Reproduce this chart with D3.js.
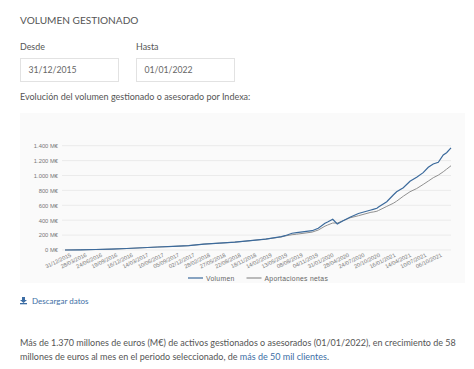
<!DOCTYPE html>
<html>
<head>
<meta charset="utf-8">
<script src="https://cdn.jsdelivr.net/npm/d3@7"></script>
<style>
  html, body { margin: 0; padding: 0; background: #fff; }
  body { width: 474px; height: 369px; overflow: hidden; position: relative; font-family: Lato, sans-serif; color: #555; }
  .abs { position: absolute; white-space: nowrap; }
  .box { position: absolute; top: 58px; height: 22px; width: 97px; border: 1px solid #e2e2e2; font-size: 8.7px; line-height: 22px; color: #666; text-indent: 7.5px; }
  a { color: #3d6ea5; text-decoration: none; }
  svg { position: absolute; left: 0; top: 0; }
</style>
</head>
<body>
<div class="abs" style="left:20px;top:14px;font-size:10.1px">VOLUMEN GESTIONADO</div>
<div class="abs" style="left:20px;top:41px;font-size:8.9px">Desde</div>
<div class="abs" style="left:136px;top:41px;font-size:8.9px">Hasta</div>
<div class="box" style="left:20px">31/12/2015</div>
<div class="box" style="left:136px">01/01/2022</div>
<div class="abs" style="left:20px;top:91px;font-size:9px">Evolución del volumen gestionado o asesorado por Indexa:</div>
<svg id="chart" width="474" height="369"></svg>
<div class="abs" style="left:32px;top:296px;font-size:8px"><a href="#">Descargar datos</a></div>
<div class="abs" style="left:20px;top:336px;font-size:9px;line-height:14px">Más de 1.370 millones de euros (M€) de activos gestionados o asesorados (01/01/2022), en crecimiento de 58<br>millones de euros al mes en el periodo seleccionado, de <a href="#">más de 50 mil clientes</a>.</div>
<script>
// Values
const tickDates = ["31/12/2015","28/03/2016","24/06/2016","19/09/2016","16/12/2016","14/03/2017","10/06/2017","05/09/2017","02/12/2017","28/02/2018","27/05/2018","22/08/2018","18/11/2018","14/02/2019","13/05/2019","08/08/2019","04/11/2019","31/01/2020","28/04/2020","24/07/2020","20/10/2020","16/01/2021","14/04/2021","10/07/2021","06/10/2021"];
const dates = ["31/12/2015","28/03/2016","24/06/2016","19/09/2016","16/12/2016","14/03/2017","10/06/2017","05/09/2017","02/12/2017","28/02/2018","27/05/2018","22/08/2018","18/11/2018","14/02/2019","13/05/2019","03/06/2019","13/07/2019","08/08/2019","04/11/2019","09/12/2019","16/01/2020","31/01/2020","29/02/2020","26/03/2020","28/04/2020","06/06/2020","24/07/2020","03/10/2020","16/10/2020","06/11/2020","15/11/2020","01/01/2021","07/02/2021","26/02/2021","05/04/2021","13/05/2021","20/06/2021","27/07/2021","25/08/2021","22/09/2021","21/10/2021","18/11/2021","07/12/2021","01/01/2022"];
const volumen = [0,3,7,12,20,30,40,48,58,80,92,105,125,147,179,192,225,232,259,291,358,375,412,349,393,439,490,537,546,560,578,648,738,782,836,922,976,1038,1110,1154,1177,1275,1306,1372];
const aportaciones = [0,3,7,12,20,30,40,48,58,80,92,105,125,147,175,188,205,212,240,268,320,335,362,362,393,432,460,506,510,520,530,585,627,655,722,782,825,880,925,970,1005,1050,1085,1131];
const yTicks = [0,200,400,600,800,1000,1200,1400];
const seriesNames = ["Volumen","Aportaciones netas"];
const seriesColors = ["#3b6a9c","#909090"];

const parseDate = d3.timeParse("%d/%m/%Y");
const svg = d3.select("#chart");

const x = d3.scaleTime()
  .domain(d3.extent(dates, d => parseDate(d)))
  .range([65, 451]);
const y = d3.scaleLinear().domain([0, 1400]).range([250, 145.7]);

svg.append("rect").attr("x", 20).attr("y", 113).attr("width", 445).attr("height", 170).attr("fill", "#fafafa");

// grid and y labels
const yAxis = svg.append("g").attr("transform", "translate(61,0)")
  .call(d3.axisLeft(y).tickValues(yTicks).tickSize(0).tickPadding(3).tickFormat(d => d3.format(",")(d).replace(",", ".") + " M€"));
yAxis.select(".domain").remove();
yAxis.selectAll("text").attr("fill", "#777").style("font-family", "Liberation Sans, sans-serif").style("font-size", "5.8px");
svg.append("g").selectAll("line").data(yTicks).join("line")
  .attr("x1", 62).attr("x2", 451)
  .attr("y1", d => y(d)).attr("y2", d => y(d))
  .attr("stroke", "#ebebeb").attr("stroke-width", 1);

// x labels
const xAxis = svg.append("g").attr("transform", "translate(0,250)")
  .call(d3.axisBottom(x).tickValues(tickDates.map(parseDate)).tickSize(0).tickFormat(d3.timeFormat("%d/%m/%Y")));
xAxis.select(".domain").remove();
xAxis.selectAll("text")
  .attr("fill", "#777")
  .style("font-family", "Liberation Sans, sans-serif")
  .style("font-size", "5.6px")
  .attr("text-anchor", "end")
  .attr("transform", "translate(3,0) rotate(-26)");

// lines
const line = d3.line().x((d, i) => x(parseDate(dates[i]))).y(d => y(d));
[aportaciones, volumen].forEach((s, i) => {
  svg.append("path").attr("d", line(s)).attr("fill", "none")
    .attr("stroke", seriesColors[1 - i]).attr("stroke-width", i ? 1.2 : 1);
});

// legend
const legendX = [188, 246.5];
seriesNames.forEach((name, i) => {
  svg.append("line").attr("x1", legendX[i]).attr("x2", legendX[i] + 15).attr("y1", 278).attr("y2", 278)
    .attr("stroke", seriesColors[i]).attr("stroke-width", 1.2);
  svg.append("text").attr("x", legendX[i] + 18).attr("y", 280.5)
    .attr("fill", "#666").style("font-family", "Liberation Sans, sans-serif").style("font-size", "6.8px").style("letter-spacing", "0.3px").text(name);
});

// download icon
const icon = svg.append("g").attr("transform", "translate(20,297)").attr("fill", "#3d6ea5");
icon.append("path").attr("d", d3.line()([[2,0],[5,0],[5,3],[7,3],[3.5,6],[0,3],[2,3]]) + "Z");
icon.append("rect").attr("x", 0).attr("y", 6).attr("width", 7).attr("height", 1.3);
</script>
</body>
</html>
